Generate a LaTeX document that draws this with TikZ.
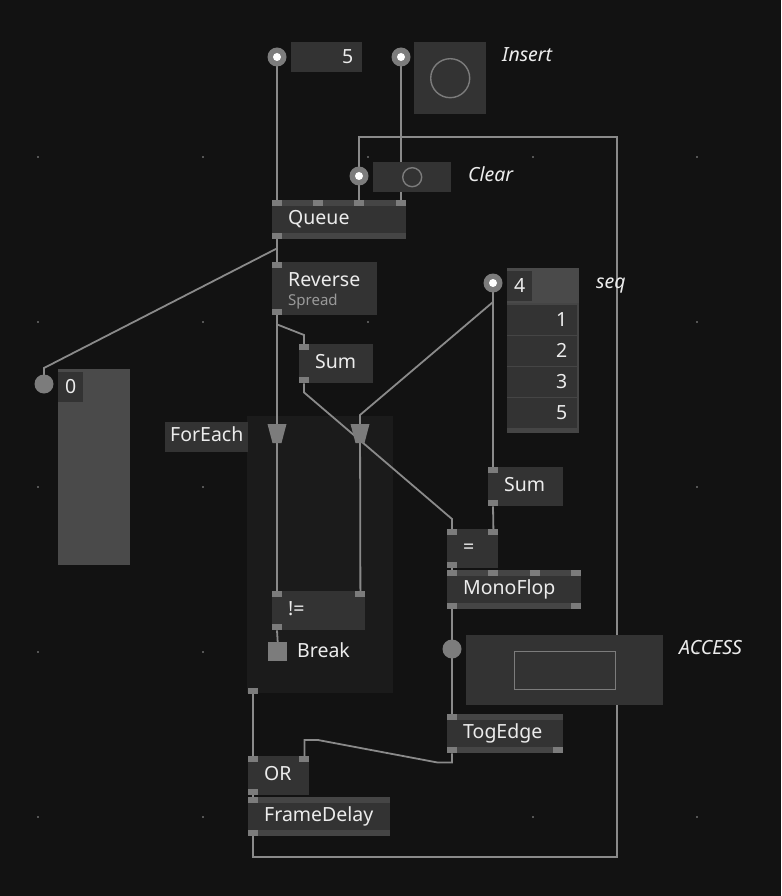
\documentclass[tikz,border=0pt]{standalone}
\usepackage{fontspec}
\setmainfont{Noto Sans}
\usetikzlibrary{calc}

\definecolor{patchbg}{HTML}{121212}
\definecolor{nodefill}{HTML}{333333}
\definecolor{barfill}{HTML}{454545}
\definecolor{boxlight}{HTML}{4A4A4A}
\definecolor{pingray}{HTML}{7C7C7C}
\definecolor{wiregray}{HTML}{8A8A8A}
\definecolor{regionfill}{HTML}{1B1B1B}
\definecolor{griddot}{HTML}{555555}
\definecolor{txt}{HTML}{ECECEC}
\definecolor{spreadgray}{HTML}{9A9A9A}

\pgfdeclarelayer{base}
\pgfdeclarelayer{wires}
\pgfsetlayers{base,wires,main}

\tikzset{
  vnode/.style={fill=nodefill, anchor=north west, inner xsep=16pt, inner ysep=0pt,
    minimum height=39pt, align=left, text=txt, text height=13.5pt, text depth=4.5pt,
    font=\fontsize{19.5}{22}\selectfont},
  iobox/.style={fill=nodefill, anchor=north west, inner sep=0pt, text=txt,
    text height=13.5pt, text depth=0pt, font=\fontsize{19.5}{22}\selectfont},
  pin/.style={fill=pingray},
  bar/.style={fill=barfill},
  wire/.style={draw=wiregray, line width=1.8pt},
  iopin/.style={circle, fill=pingray, minimum size=19pt, inner sep=0pt},
  whitedot/.style={path picture={\fill[white] (path picture bounding box.center) circle (4pt);}},
  tag/.style={anchor=base west, inner sep=0pt, text=txt, font=\fontsize{19.5}{22}\selectfont\itshape},
}

\begin{document}
\begin{tikzpicture}[x=1pt,y=-1pt]
\useasboundingbox (0,0) rectangle (781,896);
\begin{pgfonlayer}{base}
  \fill[patchbg] (0,0) rectangle (781,896);
  \foreach \gx in {38,203,368,533,697}
    \foreach \gy in {157,322,487,652,817}
      \fill[griddot] (\gx-1,\gy-1) rectangle ++(2,2);
  \node[fill=regionfill, anchor=north west, inner sep=0pt, minimum width=146pt, minimum height=277pt] (region) at (247,416) {};
\end{pgfonlayer}

% io boxes on top
\node[iopin, whitedot] (pin5) at (277,57) {};
\node[iobox, minimum height=30pt, text width=53pt, inner xsep=9pt, align=right] (box5) at (291,42) {5};
\node[iopin, whitedot] (pinInsert) at (401,57) {};
\node[iobox, minimum width=72pt, minimum height=72pt] (insertbox) at (414,42) {};
\draw[pingray, line width=1.4pt] (insertbox.center) circle (19.5pt);
\node[tag] (insertlabel) at (502,62) {Insert};
\node[iopin, whitedot] (pinClear) at (359,176) {};
\node[iobox, minimum width=78pt, minimum height=30pt] (clearbox) at (373,162) {};
\draw[pingray, line width=1.4pt] (clearbox.center) circle (9.5pt);
\node[tag] (clearlabel) at (468,182) {Clear};

% nodes
\node[vnode, text width=102pt] (queue) at (272,200) {Queue};
\node[vnode, text width=73pt, minimum height=53pt, text depth=18.5pt] (reverse) at (272,262)
  {Reverse\\[-3pt]{\fontsize{15}{18}\selectfont\color{spreadgray}Spread}};
\node[vnode, text width=42pt] (sumA) at (299,344) {Sum};
\node[vnode, text width=43pt] (sumB) at (488,467) {Sum};
\node[vnode, text width=19pt] (eq) at (447,529) {=};
\node[vnode, text width=61pt] (neq) at (272,591) {!=};
\node[vnode, text width=102pt] (monoflop) at (447,570) {MonoFlop};
\node[vnode, text width=84pt] (togedge) at (447,714) {TogEdge};
\node[vnode, text width=29pt] (or) at (248,756) {OR};
\node[vnode, text width=110pt] (framedelay) at (248,797) {FrameDelay};

% pins
\fill[bar] (queue.north west) rectangle ($(queue.north east)+(0,6)$);
\foreach \dx in {0,41,82,124} \fill[pin] ($(queue.north west)+(\dx,0)$) rectangle ++(10,6);
\fill[bar] (queue.south west) rectangle ($(queue.south east)+(0,-6)$);
\fill[pin] (queue.south west) rectangle ++(10,-6);
\foreach \n in {reverse,sumA,sumB,eq,neq,or} {
  \fill[pin] (\n.north west) rectangle ++(10,6);
  \fill[pin] (\n.south west) rectangle ++(10,-6);
}
\foreach \n in {eq,neq,or} \fill[pin] (\n.north east) rectangle ++(-10,6);
\foreach \n in {monoflop,togedge,framedelay} {
  \fill[bar] (\n.north west) rectangle ($(\n.north east)+(0,6)$);
  \fill[bar] (\n.south west) rectangle ($(\n.south east)+(0,-6)$);
  \fill[pin] (\n.north west) rectangle ++(10,6);
  \fill[pin] (\n.south west) rectangle ++(10,-6);
}
\foreach \dx in {41,83,124} \fill[pin] ($(monoflop.north west)+(\dx,0)$) rectangle ++(10,6);
\fill[pin] (monoflop.south east) rectangle ++(-10,-6);
\fill[pin] (togedge.south east) rectangle ++(-10,-6);

% seq spread
\node[iopin, whitedot] (seqpin) at (493,283) {};
\node[iobox, fill=barfill, minimum width=72pt, minimum height=165pt] (seqbox) at (507,268) {};
\fill[boxlight] (seqbox.north west) rectangle ++(72,35);
\node[iobox, minimum width=25pt, minimum height=30pt] (seqcount) at (507,271) {4};
\foreach \v [count=\i] in {1,2,3,5}
  \node[iobox, minimum height=30pt, text width=50pt, inner xsep=10pt, align=right] (seq\i) at (507,{274+31*\i}) {\v};
\node[tag] (seqlabel) at (596,288) {seq};

% zero box
\node[iopin] (zeropin) at (44,384) {};
\node[iobox, fill=boxlight, minimum width=72pt, minimum height=196pt] (zerobox) at (58,369) {};
\node[iobox, minimum width=25pt, minimum height=30pt] (zeroval) at (58,372) {0};

% foreach region
\node[vnode, minimum height=30pt, inner xsep=5pt, text width=73pt] (foreachlabel) at (165,422) {ForEach};
\coordinate (splitL) at (277,424);
\coordinate (splitR) at (360,424);
\foreach \s in {splitL,splitR} \fill[pin] ($(\s)+(-9.5,0)$) -- ++(19,0) -- ++(-5,19) -- ++(-9,0) -- cycle;
\coordinate (foreachout) at (253,694);
\fill[pin] (248,688) rectangle ++(10,6);
\node[fill=pingray, anchor=north west, minimum size=19pt, inner sep=0pt] (breakpin) at (268,642) {};
\node[anchor=base west, inner sep=0pt, text=txt, font=\fontsize{19.5}{22}\selectfont] (breaklabel) at (297,657) {Break};

% access
\node[iopin] (boolpin) at (452,649) {};
\node[iobox, minimum width=197pt, minimum height=70pt] (accessbox) at (466,635) {};
\node[draw=pingray, line width=1.4pt, minimum width=101pt, minimum height=38pt, inner sep=0pt] (accessfield) at (accessbox.center) {};
\node[tag] (accesslabel) at (679,654) {ACCESS};

% links
\begin{pgfonlayer}{wires}
\draw[wire] (pin5.center) -- ($(queue.north west)+(5,0)$);
\draw[wire] (pinInsert.center) -- ($(queue.north west)+(129,0)$);
\draw[wire] ($(framedelay.south west)+(5,0)$) -- (253,857) -- (617,857) -- (617,137) -| (pinClear.center) -- ($(queue.north west)+(87,0)$);
\draw[wire] ($(queue.south west)+(5,0)$) -- ($(reverse.north west)+(5,0)$);
\draw[wire] ($(queue.south west)+(5,0)$) -- ++(0,9) -- (44,368) -- (zeropin.center);
\draw[wire] ($(reverse.south west)+(5,0)$) -- ($(neq.north west)+(5,0)$);
\draw[wire] ($(reverse.south west)+(5,0)$) -- ++(0,9) -- ($(sumA.north west)+(5,-9)$) -- ($(sumA.north west)+(5,0)$);
\draw[wire] ($(sumA.south west)+(5,0)$) -- ++(0,9) -- ($(eq.north west)+(5,-10)$) -- ($(eq.north west)+(5,0)$);
\draw[wire] (seqpin.center) -- ($(sumB.north west)+(5,0)$);
\draw[wire] (seqpin.center) -- ($(seqpin.center)+(0,19)$) -- ($(splitR)+(0,-9)$) -- ($(neq.north east)+(-5,0)$);
\draw[wire] ($(sumB.south west)+(5,0)$) -- ($(eq.north east)+(-5,0)$);
\draw[wire] ($(eq.south west)+(5,0)$) -- ($(monoflop.north west)+(5,0)$);
\draw[wire] ($(monoflop.south west)+(5,0)$) -- (boolpin.center) -- ($(togedge.north west)+(5,0)$);
\draw[wire] ($(togedge.south west)+(5,0)$) -- ++(0,9) -- ++(-15,0) -- (318,740) -- ($(or.north east)+(-5,-16)$) -- ($(or.north east)+(-5,0)$);
\draw[wire] (foreachout) -- ($(or.north west)+(5,0)$);
\draw[wire] ($(or.south west)+(5,0)$) -- ($(framedelay.north west)+(5,0)$);
\draw[wire] ($(neq.south west)+(5,0)$) -- (breakpin.north);
\end{pgfonlayer}
\end{tikzpicture}
\end{document}
